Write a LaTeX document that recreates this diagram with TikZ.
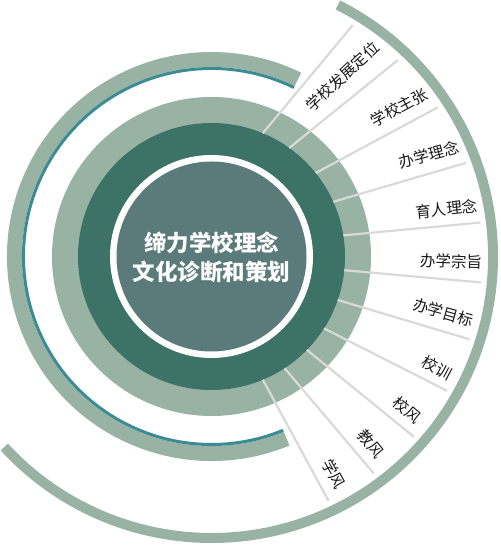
\documentclass[tikz,border=0pt]{standalone}
\usepackage{fontspec}
\newfontfamily\cjk{Noto Sans CJK SC}
\definecolor{sage}{HTML}{98B2A4}
\definecolor{darkg}{HTML}{3C7366}
\definecolor{innerc}{HTML}{5A7B7A}
\definecolor{tealline}{HTML}{3A8B92}
\definecolor{spokec}{HTML}{D9D9D9}
\begin{document}
\begin{tikzpicture}[x=1pt,y=1pt,
  spoke/.style={draw=spokec, line width=2.2pt},
  lab/.style={font={\cjk\fontsize{15.5}{18}\selectfont}, text=black!90, inner sep=0pt},
  title/.style={font={\cjk\bfseries\fontsize{22.5}{28.4}\selectfont}, text=white, align=center, inner sep=0pt}]
\useasboundingbox (0,0) rectangle (500,545);
\fill[white] (0,0) rectangle (500,545);
\begin{scope}[shift={(211.5,288.5)}]
  % big outer arc
  \fill[sage] (63.3:276.5) arc[start angle=63.3,end angle=-137.4,radius=276.5]
     -- (-137.4:286.5) arc[start angle=-137.4,end angle=63.3,radius=286.5] -- cycle;
  % partial arc on the left
  \fill[sage] (64:189.5) arc[start angle=64,end angle=292.4,radius=189.5]
     -- (292.4:204.5) arc[start angle=292.4,end angle=64,radius=204.5] -- cycle;
  \fill[tealline] (64:186.5) arc[start angle=64,end angle=292.4,radius=186.5]
     -- (292.4:189.5) arc[start angle=292.4,end angle=64,radius=189.5] -- cycle;
  % rings
  \fill[sage] (0,0) circle[radius=159.5];
  \fill[darkg] (0,0) circle[radius=133.5];
  \fill[white] (0,0) circle[radius=101.5];
  \node[circle, fill=innerc, minimum size=190pt, inner sep=0pt] (core) at (0,0) {};
  \node[title] (ttl) at (0,-1) {缔力学校理念\\文化诊断和策划};
  % spokes
  \foreach \a/\b [count=\i] in {67.4/58.6, 54.4/46.5, 38.7/33.4, 24.2/20.2, 9.1/7.2,
      -5.9/-5.5, -19/-17.8, -32.6/-29.7, -44.4/-41.7, -56.8/-53.2, -67.4/-64.4} {
    \coordinate (in\i) at (\a:133.5);
    \coordinate (out\i) at (\b:271);
    \draw[spoke] (in\i) -- (out\i);
  }
\end{scope}
\node[lab, rotate=43] (l1) at (342.5,468.5) {学校发展定位};
\node[lab, rotate=28] (l2) at (399,437.5) {学校主张};
\node[lab, rotate=15] (l3) at (429,390) {办学理念};
\node[lab, rotate=6] (l4) at (446.7,336) {育人理念};
\node[lab, rotate=-2] (l5) at (451,283.5) {办学宗旨};
\node[lab, rotate=-16] (l6) at (443.5,232.5) {办学目标};
\node[lab, rotate=-28] (l7) at (437,177) {校训};
\node[lab, rotate=-40] (l8) at (407.5,135) {校风};
\node[lab, rotate=-51] (l9) at (371,101) {教风};
\node[lab, rotate=-61] (l10) at (334,71) {学风};
\end{tikzpicture}
\end{document}
